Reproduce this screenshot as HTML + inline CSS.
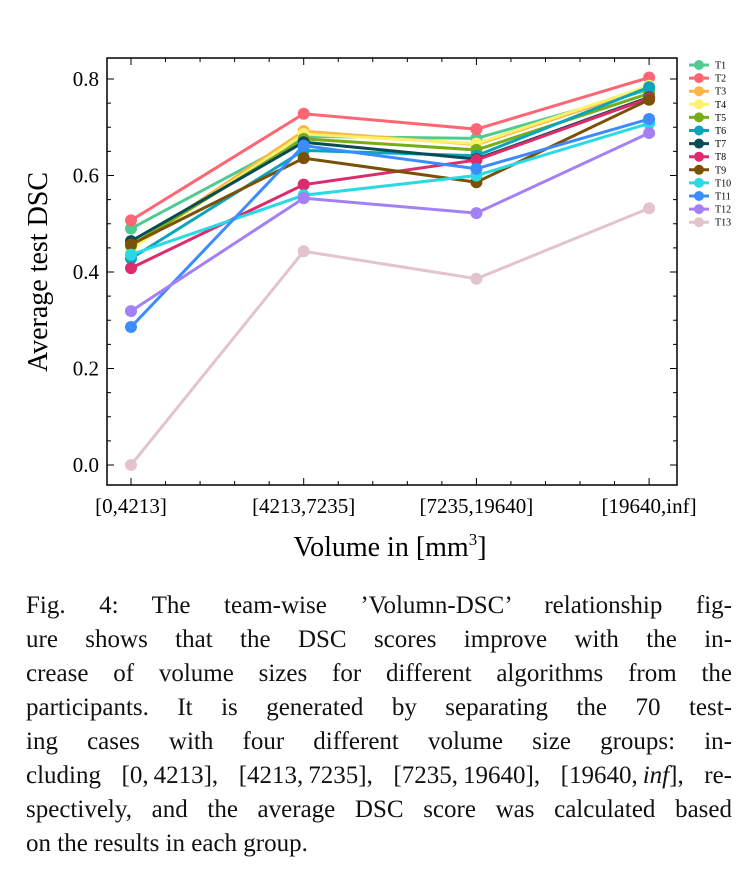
<!DOCTYPE html>
<html><head><meta charset="utf-8">
<style>
body{margin:0;background:#fff;width:753px;height:892px;overflow:hidden;position:relative;font-family:"Liberation Serif",serif;}
#cap{position:absolute;left:26px;top:589px;width:706px;font-size:25px;line-height:34px;color:#111;}
#cap div{text-align:justify;text-align-last:justify;white-space:nowrap;}
#cap div.last{text-align-last:left;}
</style></head><body>
<svg id="chart" width="753" height="580" style="position:absolute;left:0;top:0" font-family="Liberation Serif, serif"></svg>
<div id="cap">
<div>Fig. 4: The team-wise ’Volumn-DSC’ relationship fig-</div>
<div>ure shows that the DSC scores improve with the in-</div>
<div>crease of volume sizes for different algorithms from the</div>
<div>participants. It is generated by separating the 70 test-</div>
<div>ing cases with four different volume size groups: in-</div>
<div>cluding [0,&thinsp;4213], [4213,&thinsp;7235], [7235,&thinsp;19640], [19640,&thinsp;<i>inf</i>], re-</div>
<div>spectively, and the average DSC score was calculated based</div>
<div class="last">on the results in each group.</div>
</div>
<script>
const categories=["[0,4213]","[4213,7235]","[7235,19640]","[19640,inf]"];
const seriesNames=["T1","T2","T3","T4","T5","T6","T7","T8","T9","T10","T11","T12","T13"];
const seriesColors=["#4fcb91","#ff6674","#fdb544","#fdf06c","#78ad1a","#0aa5bd","#0a4c55","#dc2c6c","#7a5106","#29d9e6","#3a8cff","#a480f5","#e3c4cb"];
const T1=[0.49,0.681,0.677,0.778];
const T2=[0.507,0.728,0.696,0.803];
const T3=[0.452,0.692,0.664,0.782];
const T4=[0.448,0.686,0.666,0.786];
const T5=[0.455,0.676,0.653,0.770];
const T6=[0.428,0.652,0.641,0.783];
const T7=[0.464,0.669,0.634,0.762];
const T8=[0.408,0.581,0.632,0.760];
const T9=[0.457,0.636,0.586,0.757];
const T10=[0.436,0.559,0.600,0.708];
const T11=[0.286,0.662,0.614,0.717];
const T12=[0.319,0.553,0.522,0.688];
const T13=[0.0,0.443,0.386,0.532];
const seriesValues=[T1,T2,T3,T4,T5,T6,T7,T8,T9,T10,T11,T12,T13];
const yTicks=[0.0,0.2,0.4,0.6,0.8];
const yTickLabels=["0.0","0.2","0.4","0.6","0.8"];

const NS="http://www.w3.org/2000/svg";
const svg=document.getElementById('chart');
const L=107,R=677,T=58,B=485;
const xs=i=>131+i*172.7;
const ys=v=>465-v*482.5;
function mk(tag,attrs,parent){const e=document.createElementNS(NS,tag);for(const k in attrs)e.setAttribute(k,attrs[k]);(parent||svg).appendChild(e);return e;}
const fr=mk('rect',{x:L,y:T,width:R-L,height:B-T,fill:'none',stroke:'#000','stroke-width':1.5});


for(let v=0;v<=0.85;v+=0.05){
  const y=ys(v);const major=Math.abs(v*10-Math.round(v*10))<1e-6&&Math.round(v*10)%2===0;
  const len=major?7:4;
  mk('line',{x1:L,x2:L+len,y1:y,y2:y,stroke:'#000','stroke-width':1});
  mk('line',{x1:R,x2:R-len,y1:y,y2:y,stroke:'#000','stroke-width':1});
}
yTicks.forEach((v,i)=>{
  const t=mk('text',{x:L-8,y:ys(v)+7,'text-anchor':'end','font-size':21});
  t.textContent=yTickLabels[i];
  
  
});
const step=xs(1)-xs(0);
for(let k=-1;k<=20;k++){
  const x=xs(0)+k*step/5; if(x<L||x>R)continue;
  const len=(k%5===0)?7:4;
  mk('line',{x1:x,x2:x,y1:B,y2:B-len,stroke:'#000','stroke-width':1});
  mk('line',{x1:x,x2:x,y1:T,y2:T+len,stroke:'#000','stroke-width':1});
}
categories.forEach((c,i)=>{
  const t=mk('text',{x:xs(i),y:513,'text-anchor':'middle','font-size':21});
  t.textContent=c;
  
  
});
const yt=mk('text',{x:0,y:0,'text-anchor':'middle','font-size':28,transform:'translate(47,272) rotate(-90)'});
yt.textContent='Average test DSC';


const xt=mk('text',{x:390,y:556,'text-anchor':'middle','font-size':28});
xt.innerHTML='Volume in [mm<tspan dy="-11" font-size="17">3</tspan><tspan dy="11">]</tspan>';


seriesValues.forEach((vals,s)=>{
  const g=mk('g',{});
  
  
  mk('polyline',{points:vals.map((v,i)=>xs(i)+','+ys(v)).join(' '),fill:'none',stroke:seriesColors[s],'stroke-width':3},g);
  vals.forEach((v,i)=>{
    const c=mk('circle',{cx:xs(i),cy:ys(v),r:6,fill:seriesColors[s]},g);
    
    
  });
});
seriesNames.forEach((n,s)=>{
  const y=65+s*13.1;
  const g=mk('g',{});
  
  
  mk('line',{x1:689,x2:709,y1:y,y2:y,stroke:seriesColors[s],'stroke-width':3},g);
  mk('circle',{cx:699,cy:y,r:5,fill:seriesColors[s]},g);
  const t=mk('text',{x:715,y:y+3.5,'font-size':10},g);
  t.textContent=n;
});
</script>
</body></html>
